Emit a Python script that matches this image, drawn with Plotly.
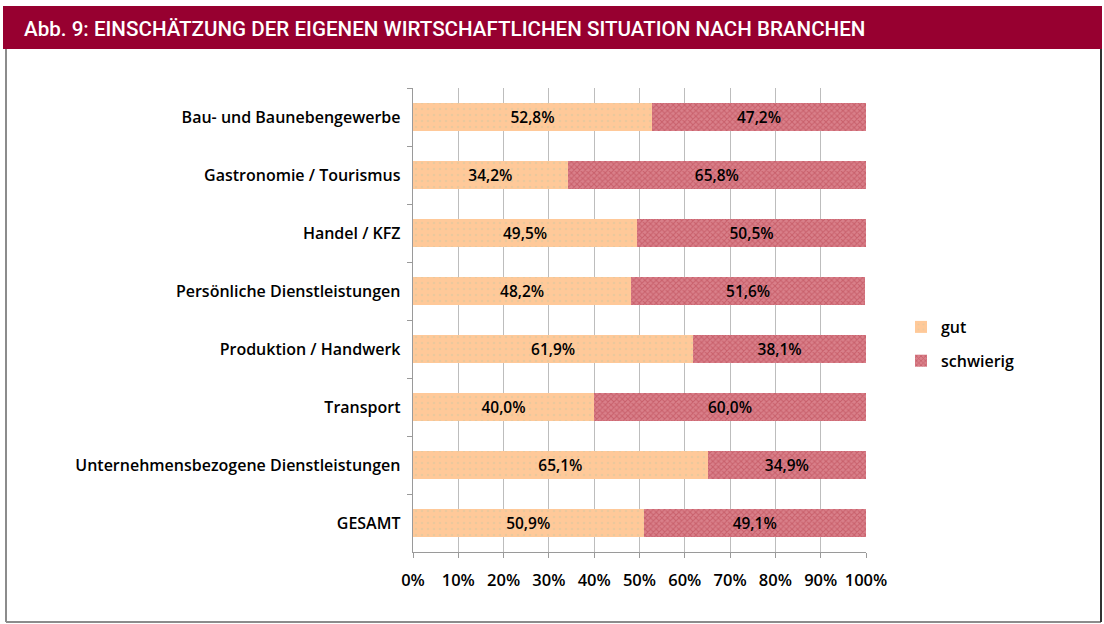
import plotly.graph_objects as go

categories = [
    "Bau- und Baunebengewerbe",
    "Gastronomie / Tourismus",
    "Handel / KFZ",
    "Persönliche Dienstleistungen",
    "Produktion / Handwerk",
    "Transport",
    "Unternehmensbezogene Dienstleistungen",
    "GESAMT",
]
gut = [52.8, 34.2, 49.5, 48.2, 61.9, 40.0, 65.1, 50.9]
schwierig = [47.2, 65.8, 50.5, 51.6, 38.1, 60.0, 34.9, 49.1]
x_ticks = [0, 10, 20, 30, 40, 50, 60, 70, 80, 90, 100]
title_text = "Abb. 9: EINSCHÄTZUNG DER EIGENEN WIRTSCHAFTLICHEN SITUATION NACH BRANCHEN"

W, H = 1104, 624
def px(x):
    return x / W
def py(y):
    return 1 - y / H

def fmt(v):
    return f"{v:.1f}".replace(".", ",") + "%"

font_family = "Open Sans, sans-serif"
lab_font = dict(family=font_family, size=16, color="#000000", weight=600)

fig = go.Figure()
fig.add_trace(go.Bar(
    y=categories, x=gut, orientation="h", name="gut",
    legendgroup="a",
    marker=dict(color="#FFC999", line=dict(width=0),
                pattern=dict(shape=".", fgcolor="#D8C8A0", bgcolor="#FFC999", size=6, solidity=0.15)),
    text=[fmt(v) for v in gut], textposition="inside", insidetextanchor="middle",
    textfont=lab_font,
    width=0.47,
))
fig.add_trace(go.Bar(
    y=categories, x=schwierig, orientation="h", name="schwierig",
    legendgroup="b",
    marker=dict(color="#D06670", line=dict(width=0),
                pattern=dict(shape="x", fgcolor="#B8404C", bgcolor="#D9808A", size=4, solidity=0.45)),
    text=[fmt(v) for v in schwierig], textposition="inside", insidetextanchor="middle",
    textfont=lab_font,
    width=0.47,
))

fig.update_layout(
    width=W, height=H,
    barmode="stack",
    plot_bgcolor="white", paper_bgcolor="white",
    margin=dict(l=0, r=0, t=0, b=0),
    font=lab_font,
    uniformtext=dict(minsize=8, mode="show"),
    xaxis=dict(
        domain=[px(413), px(866)],
        range=[0, 100],
        tickvals=x_ticks,
        ticktext=[f"{v}%" for v in x_ticks],
        showgrid=True, gridcolor="#BDBDBD", gridwidth=1,
        showline=True, linecolor="#9A9A9A", linewidth=1,
        ticks="outside", ticklen=5, tickcolor="#9A9A9A",
        ticklabelstandoff=8,
        tickfont=dict(family=font_family, size=16.5, color="#000000", weight=600),
        zeroline=False, fixedrange=True, automargin=False,
    ),
    yaxis=dict(
        domain=[py(552), py(88)],
        autorange="reversed",
        showline=True, linecolor="#9A9A9A", linewidth=1,
        ticks="outside", ticklen=5, tickcolor="#9A9A9A",
        tickson="boundaries",
        ticksuffix="  ",
        tickfont=lab_font,
        showgrid=False, fixedrange=True, automargin=False,
    ),
    legend=dict(
        x=px(901), y=py(310), xanchor="left", yanchor="top",
        font=lab_font,
        tracegroupgap=10, itemwidth=30,
        bgcolor="rgba(0,0,0,0)",
    ),
    showlegend=True,
)

# Title bar and outer frame
fig.add_shape(type="rect", xref="paper", yref="paper",
              x0=px(3), x1=px(1102), y0=py(49), y1=py(6),
              fillcolor="#970030", line=dict(width=0), layer="below")
fig.add_shape(type="line", xref="paper", yref="paper",
              x0=px(6), x1=px(6), y0=py(49), y1=py(622),
              line=dict(color="#8C8C8C", width=2))
fig.add_shape(type="line", xref="paper", yref="paper",
              x0=px(6), x1=px(1101), y0=py(622), y1=py(622),
              line=dict(color="#8C8C8C", width=2))
fig.add_shape(type="line", xref="paper", yref="paper",
              x0=px(1101), x1=px(1101), y0=py(49), y1=py(622),
              line=dict(color="#333333", width=2))
fig.add_annotation(
    xref="paper", yref="paper", x=px(22), y=py(29),
    xanchor="left", yanchor="middle", showarrow=False,
    text=title_text,
    font=dict(family="Roboto, sans-serif", size=20.6, color="white", weight=500),
)

fig.write_html(
    "out.html",
    config={"displayModeBar": False},
    post_script="document.body.style.margin='0';document.body.style.overflow='hidden';",
)
